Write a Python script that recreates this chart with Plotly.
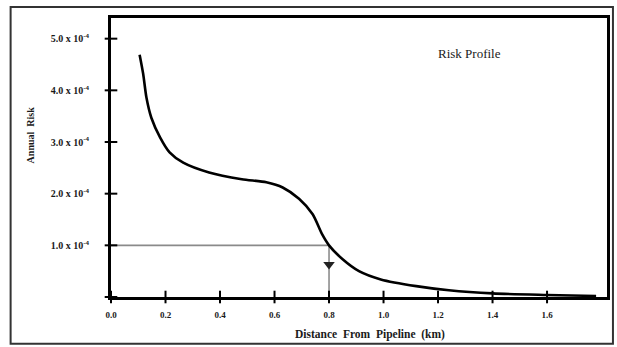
import plotly.graph_objects as go

# Risk profile: annual individual risk versus distance from the pipeline
distance_km = [0.105, 0.118, 0.13, 0.148, 0.18, 0.215, 0.265, 0.36, 0.48, 0.57,
               0.63, 0.69, 0.74, 0.775, 0.80, 0.85, 0.91, 0.99, 1.12, 1.24,
               1.40, 1.60, 1.78]
annual_risk = [4.69e-4, 4.32e-4, 3.86e-4, 3.47e-4, 3.09e-4, 2.80e-4, 2.60e-4,
               2.41e-4, 2.28e-4, 2.22e-4, 2.12e-4, 1.90e-4, 1.60e-4, 1.21e-4,
               1.00e-4, 0.73e-4, 0.50e-4, 0.34e-4, 0.21e-4, 0.13e-4, 0.07e-4,
               0.04e-4, 0.02e-4]

# Acceptable-risk criterion and the distance at which it is met
criterion_risk = 1.0e-4
criterion_distance = 0.8

x_ticks = [0.0, 0.2, 0.4, 0.6, 0.8, 1.0, 1.2, 1.4, 1.6]
x_tick_labels = ["0.0", "0.2", "0.4", "0.6", "0.8", "1.0", "1.2", "1.4", "1.6"]
y_mark_ticks = [0.0, 1.0e-4, 2.0e-4, 3.0e-4, 4.0e-4, 5.0e-4]
y_ticks = [1.0e-4, 2.0e-4, 3.0e-4, 4.0e-4, 5.0e-4]
y_tick_labels = ["1.0 x 10<sup>-4</sup>", "2.0 x 10<sup>-4</sup>",
                 "3.0 x 10<sup>-4</sup>", "4.0 x 10<sup>-4</sup>",
                 "5.0 x 10<sup>-4</sup>"]

SERIF = "Liberation Serif, Times New Roman, serif"
INK = "#1a1a1a"

fig = go.Figure()

# horizontal criterion line out to the curve
fig.add_trace(go.Scatter(
    x=[0, criterion_distance], y=[criterion_risk, criterion_risk],
    mode="lines", line=dict(color="#8a8a8a", width=1.6),
    hoverinfo="skip", showlegend=False))

# vertical drop from the curve to the distance axis
fig.add_trace(go.Scatter(
    x=[criterion_distance, criterion_distance], y=[criterion_risk, 0],
    mode="lines", line=dict(color="#666666", width=1.2),
    hoverinfo="skip", showlegend=False))

# arrow head on the drop line
fig.add_trace(go.Scatter(
    x=[criterion_distance], y=[0.63e-4], mode="markers",
    marker=dict(symbol="triangle-down", size=10, color="#222222"),
    hoverinfo="skip", showlegend=False))

# the risk profile curve
fig.add_trace(go.Scatter(
    x=distance_km, y=annual_risk, mode="lines",
    line=dict(color="black", width=2.6, shape="spline", smoothing=0.7),
    showlegend=False))

# tick marks that cross the axis lines
fig.add_trace(go.Scatter(
    x=x_ticks, y=[0] * len(x_ticks), mode="markers",
    marker=dict(symbol="line-ns-open", size=9, color="black",
                line=dict(color="black", width=2)),
    cliponaxis=False, hoverinfo="skip", showlegend=False))
fig.add_trace(go.Scatter(
    x=[0] * len(y_mark_ticks), y=y_mark_ticks, mode="markers",
    marker=dict(symbol="line-ew-open", size=9, color="black",
                line=dict(color="black", width=2)),
    cliponaxis=False, hoverinfo="skip", showlegend=False))

fig.update_xaxes(
    range=[0, 1.82], tickvals=x_ticks, ticktext=x_tick_labels,
    showgrid=False, zeroline=False, ticks="", ticklabelstandoff=7,
    showline=True, linecolor="black", linewidth=3, mirror=True,
    tickfont=dict(family=SERIF, size=9, color=INK, weight="bold"))
fig.update_yaxes(
    range=[0, 5.4e-4], tickvals=y_ticks, ticktext=y_tick_labels,
    showgrid=False, zeroline=False, ticks="", ticklabelstandoff=17,
    showline=True, linecolor="black", linewidth=3, mirror=True,
    tickfont=dict(family=SERIF, size=10, color=INK, weight="bold"))

fig.add_annotation(
    text="Risk Profile", xref="x", yref="y", x=1.316, y=4.71e-4,
    showarrow=False, font=dict(family=SERIF, size=13, color=INK))
fig.add_annotation(
    text="Distance&nbsp;&nbsp;From&nbsp;&nbsp;Pipeline&nbsp;&nbsp;(km)",
    xref="paper", yref="paper", x=0.523, y=-0.136, yanchor="middle",
    showarrow=False, font=dict(family=SERIF, size=11.5, color=INK, weight="bold"))
fig.add_annotation(
    text="Annual&nbsp;&nbsp;Risk", textangle=-90,
    xref="paper", yref="paper", x=-0.178, y=0.58,
    showarrow=False, font=dict(family=SERIF, size=10, color=INK, weight="bold"))

# outer frame around the whole figure
fig.add_shape(type="rect", xref="paper", yref="paper",
              x0=-0.2024, x1=1.012, y0=-0.168, y1=1.039,
              line=dict(color="#333333", width=2), layer="below")

fig.update_layout(
    width=617, height=347,
    margin=dict(l=111, r=7, t=18, b=50),
    paper_bgcolor="white", plot_bgcolor="white")

fig.write_html("out.html")
